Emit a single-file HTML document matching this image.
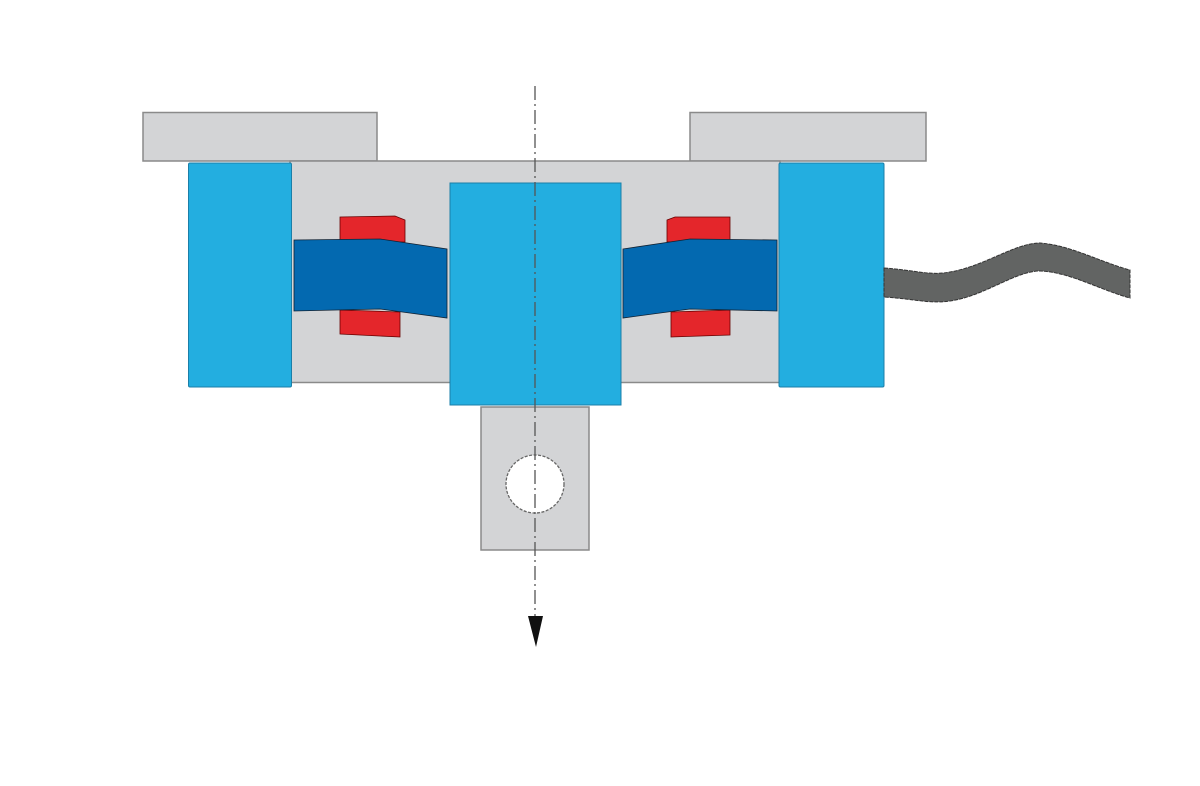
<!DOCTYPE html>
<html><head><meta charset="utf-8"><style>html,body{margin:0;padding:0;background:#fff}svg{display:block}</style></head>
<body>
<svg width="1200" height="786" viewBox="0 0 1200 786" xmlns="http://www.w3.org/2000/svg">
<rect width="1200" height="786" fill="#fff"/>
<rect x="143" y="112.5" width="234" height="48.5" fill="#d3d4d6" stroke="#8a8a8a" stroke-width="1.5"/>
<rect x="690" y="112.5" width="236" height="48.5" fill="#d3d4d6" stroke="#8a8a8a" stroke-width="1.5"/>
<rect x="290" y="161" width="490" height="221.5" fill="#d3d4d6" stroke="#8a8a8a" stroke-width="1.5"/>
<path d="M340 217 L395 216 L405 220 L405 242 L340 242 Z" fill="#e4262b" stroke="#600" stroke-width="0.8"/>
<path d="M340 310 L400 312 L400 337 L340 334 Z" fill="#e4262b" stroke="#600" stroke-width="0.8"/>
<path d="M667 220 L675 217 L730 217 L730 242 L667 242 Z" fill="#e4262b" stroke="#600" stroke-width="0.8"/>
<path d="M671 312 L730 310 L730 335 L671 337 Z" fill="#e4262b" stroke="#600" stroke-width="0.8"/>
<path d="M294 240 L380 239 L447 249 L447 318 L380 309 L294 311 Z" fill="#0369b0" stroke="#123" stroke-width="0.8"/>
<path d="M623 249 L690 239 L777 240 L777 311 L690 309 L623 318 Z" fill="#0369b0" stroke="#123" stroke-width="0.8"/>
<rect x="188.5" y="163" width="103" height="224" rx="1.5" fill="#23aee0" stroke="#1b7fa8" stroke-width="1"/>
<rect x="779" y="163" width="105" height="224" rx="1.5" fill="#23aee0" stroke="#1b7fa8" stroke-width="1"/>
<rect x="450" y="183" width="171" height="222" fill="#23aee0" stroke="#1b7fa8" stroke-width="1"/>
<rect x="481" y="407" width="108" height="143" fill="#d3d4d6" stroke="#8a8a8a" stroke-width="1.5"/>
<circle cx="535" cy="484" r="29" fill="#fff" stroke="#666" stroke-width="1.3" stroke-dasharray="3 1.5"/>
<path d="M884 268 C915 270 930 276 950 272 C985 266 1015 243 1040 243 C1070 245 1100 262 1130 270 L1130 298 C1100 290 1070 272 1040 271 C1015 271 985 296 950 301 C930 304 915 299 884 297 Z" fill="#626463" stroke="#333" stroke-width="1" stroke-dasharray="4 1"/>
<line x1="535" y1="86" x2="535" y2="618" stroke="#555" stroke-width="1.3" stroke-dasharray="14 4 2 4"/>
<path d="M528 616 L543 616 L536 647 Z" fill="#111"/>
</svg>
</body></html>
